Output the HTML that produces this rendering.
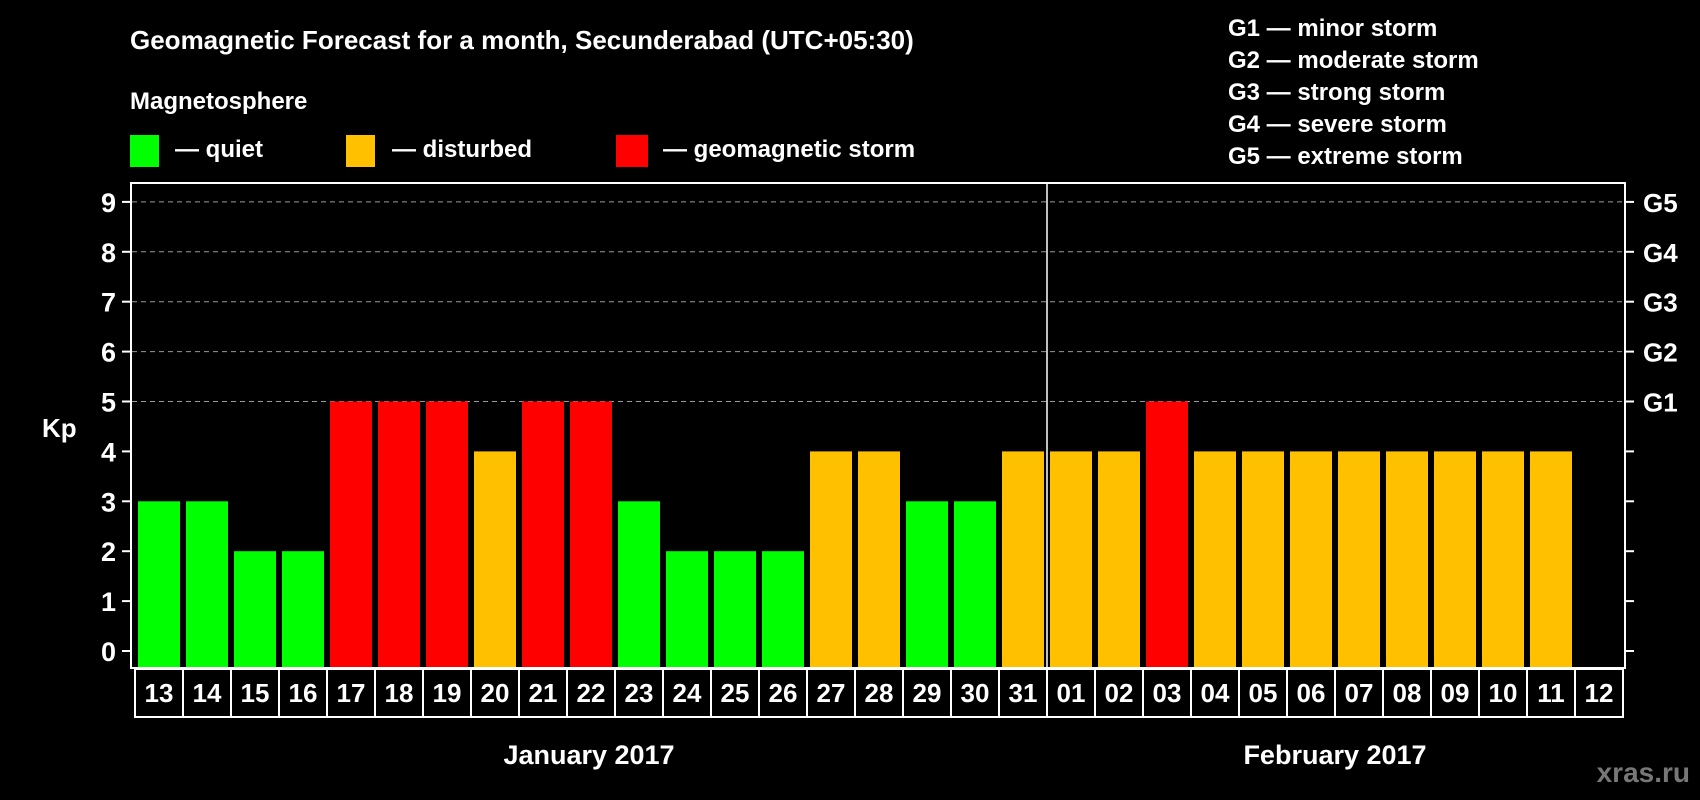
<!DOCTYPE html>
<html><head><meta charset="utf-8"><style>
html,body{margin:0;padding:0;background:#000;}
svg{display:block;font-family:"Liberation Sans",sans-serif;font-weight:bold;}
</style></head><body>
<svg id="chart" width="1700" height="800" viewBox="0 0 1700 800">
<rect x="0" y="0" width="1700" height="800" fill="#000"/>
<text x="130" y="49" fill="#fff" font-size="26">Geomagnetic Forecast for a month, Secunderabad (UTC+05:30)</text>
<text x="130" y="109" fill="#fff" font-size="24">Magnetosphere</text>
<g><rect x="130" y="135" width="29" height="32" fill="#00ff00"/><text x="175" y="157" fill="#fff" font-size="24">— quiet</text></g>
<g><rect x="346" y="135" width="29" height="32" fill="#ffc000"/><text x="392" y="157" fill="#fff" font-size="24">— disturbed</text></g>
<g><rect x="616" y="135" width="32" height="32" fill="#ff0000"/><text x="663" y="157" fill="#fff" font-size="24">— geomagnetic storm</text></g>
<g font-size="24" fill="#fff">
<text x="1228" y="36">G1 — minor storm</text>
<text x="1228" y="68">G2 — moderate storm</text>
<text x="1228" y="100">G3 — strong storm</text>
<text x="1228" y="132">G4 — severe storm</text>
<text x="1228" y="164">G5 — extreme storm</text>
</g>
<g id="grid"></g>
<g id="bars"></g>
<rect x="131" y="183" width="1494" height="485" fill="none" stroke="#fff" stroke-width="2"/>
<g id="axes"></g>
<text x="42" y="437" fill="#fff" font-size="26">Kp</text>
<text x="589" y="764" fill="#fff" font-size="27" text-anchor="middle">January 2017</text>
<text x="1335" y="764" fill="#fff" font-size="27" text-anchor="middle">February 2017</text>
<text x="1690" y="782" fill="#777" font-size="28" text-anchor="end">xras.ru</text>
</svg>
<script>
const days = ["13","14","15","16","17","18","19","20","21","22","23","24","25","26","27","28","29","30","31","01","02","03","04","05","06","07","08","09","10","11","12"];
const kpValues = [3,3,2,2,5,5,5,4,5,5,3,2,2,2,4,4,3,3,4,4,4,5,4,4,4,4,4,4,4,4,null];
const yTicks = [0,1,2,3,4,5,6,7,8,9];
const gLabels = ["G1","G2","G3","G4","G5"];
const gLevels = [5,6,7,8,9];
const monthBreakIndex = 19;

const NS="http://www.w3.org/2000/svg";
const colX0=135, colW=48, plotBottom=667;
function yScale(v){return 651-49.9*v;}
function xScale(i){return colX0+i*colW;}
function mk(tag,attrs,parent){const e=document.createElementNS(NS,tag);for(const k in attrs)e.setAttribute(k,attrs[k]);parent.appendChild(e);return e;}
const grid=document.getElementById('grid'),bars=document.getElementById('bars'),axes=document.getElementById('axes');
gLevels.forEach((v,i)=>{
  const l=mk('line',{x1:132,x2:1624,y1:yScale(v),y2:yScale(v),stroke:'#999','stroke-dasharray':'5,4','stroke-width':1},grid);
  
  
  const t=mk('text',{x:1643,y:yScale(v)+10,fill:'#fff','font-size':26},axes);
  t.textContent=gLabels[i];
  
  
});
yTicks.forEach(v=>{
  const tk=mk('line',{x1:122,x2:131,y1:yScale(v),y2:yScale(v),stroke:'#fff','stroke-width':2},axes);
  
  
  const tr=mk('line',{x1:1625,x2:1634,y1:yScale(v),y2:yScale(v),stroke:'#fff','stroke-width':2},axes);
  
  
  const t=mk('text',{x:116,y:yScale(v)+10,fill:'#fff','font-size':27,'text-anchor':'end'},axes);
  t.textContent=v;
  
  
});
function color(v){return v>=5?'#ff0000':(v>=4?'#ffc000':'#00ff00');}
kpValues.forEach((v,i)=>{
  if(v===null)return;
  const b=mk('rect',{x:xScale(i)+3,y:yScale(v),width:42,height:plotBottom-yScale(v),fill:color(v)},bars);
  
  
});
const sep=mk('line',{x1:xScale(monthBreakIndex),x2:xScale(monthBreakIndex),y1:184,y2:667,stroke:'#fff','stroke-width':1.5},axes);


days.forEach((d,i)=>{
  const r=mk('rect',{x:xScale(i),y:669,width:colW,height:48,fill:'#000',stroke:'#fff','stroke-width':2},axes);
  
  
  const t=mk('text',{x:xScale(i)+colW/2,y:702,fill:'#fff','font-size':26,'text-anchor':'middle'},axes);
  t.textContent=d;
  
  
});
</script>
</body></html>
